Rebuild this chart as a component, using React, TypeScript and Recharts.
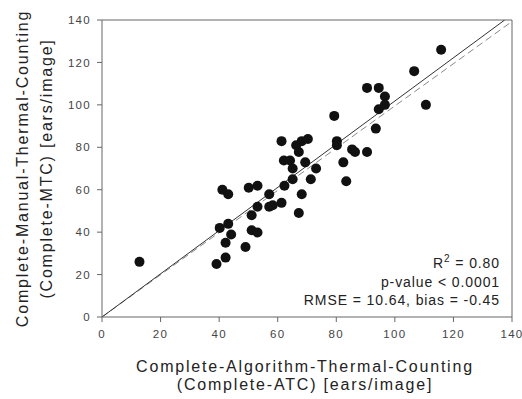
import React from "react";
import {
  ScatterChart,
  Scatter,
  XAxis,
  YAxis,
  ReferenceLine,
  Customized,
} from "recharts";

// Complete-ATC (x) vs Complete-MTC (y), ears/image
const atc = [
  12.8, 39.1, 40.2, 41.1, 43.1, 42.2, 42.2, 43.1, 44.1, 49.0, 50.1, 51.1, 51.1,
  53.1, 53.1, 53.1, 57.1, 57.1, 58.3, 61.3, 61.3, 62.1, 64.2, 62.3, 65.1, 65.1,
  66.3, 67.2, 68.2, 70.3, 68.2, 67.2, 69.4, 71.3, 73.1, 79.3, 80.2, 80.2, 82.4,
  83.4, 85.4, 86.4, 90.5, 90.5, 93.5, 94.5, 94.5, 96.6, 96.6, 106.6, 110.6,
  115.8,
];
const mtc = [
  26.0, 25.0, 42.0, 60.0, 57.9, 35.0, 28.0, 43.9, 38.9, 33.0, 60.9, 48.0, 40.9,
  61.9, 52.0, 39.8, 57.9, 52.0, 52.7, 82.9, 53.8, 73.8, 73.8, 61.9, 70.0, 64.9,
  81.0, 77.8, 82.9, 83.9, 57.9, 49.0, 72.9, 64.9, 70.0, 94.8, 82.9, 81.0, 72.9,
  64.0, 79.0, 77.8, 108.0, 77.8, 88.8, 108.0, 97.9, 103.9, 100.0, 115.9, 100.0,
  126.0,
];

const ticks = [0, 20, 40, 60, 80, 100, 120, 140];
const fitLine = [
  { x: 0, y: 0 },
  { x: 137.5, y: 140 },
];
const oneToOne = [
  { x: 0, y: 0 },
  { x: 140, y: 139.3 },
];
const stats = ["= 0.80", "p-value < 0.0001", "RMSE = 10.64, bias = -0.45"];

const points = atc.map((x, i) => ({ x, y: mtc[i] }));

const font = "'Liberation Sans', Arial, sans-serif";
const axisColor = "#666";

function XTitle(props: any) {
  const { viewBox } = props;
  const cx = viewBox.x + viewBox.width / 2 - 2;
  return (
    <text
      textAnchor="middle"
      fontFamily={font}
      fontSize={16}
      letterSpacing={1.8}
      fill="#222"
    >
      <tspan x={cx} y={372}>Complete-Algorithm-Thermal-Counting</tspan>
      <tspan x={cx} y={390}>(Complete-ATC) [ears/image]</tspan>
    </text>
  );
}

function YTitle(props: any) {
  const { viewBox } = props;
  const cy = viewBox.y + viewBox.height / 2;
  return (
    <g transform={`rotate(-90 0 ${cy})`}>
      <text
        textAnchor="middle"
        fontFamily={font}
        fontSize={16}
        letterSpacing={1.8}
        fill="#222"
      >
        <tspan x={0} y={cy + 28}>Complete-Manual-Thermal-Counting</tspan>
        <tspan x={0} y={cy + 52}>(Complete-MTC) [ears/image]</tspan>
      </text>
    </g>
  );
}

function Stats() {
  const right = 500;
  return (
    <g
      fontFamily={font}
      fontSize={14}
      fill="#222"
      textAnchor="end"
      letterSpacing={0.9}
    >
      <text x={right} y={268}>
        <tspan>R</tspan>
        <tspan fontSize={10} dy={-6}>2</tspan>
        <tspan dy={6}> {stats[0]}</tspan>
      </text>
      <text x={right} y={287}>{stats[1]}</text>
      <text x={right} y={305}>{stats[2]}</text>
    </g>
  );
}

const tickStyle = {
  fontSize: 11.5,
  fill: "#444",
  fontFamily: font,
  letterSpacing: 1.3,
};

export default function App() {
  return (
    <div style={{ position: "absolute", left: 0, top: 0 }}>
      <ScatterChart
        width={522}
        height={399}
        margin={{ top: 20, right: 10, left: 42, bottom: 52 }}
      >
        <XAxis
          type="number"
          dataKey="x"
          domain={[0, 140]}
          ticks={ticks}
          interval={0}
          tickSize={5}
          tickMargin={8}
          height={30}
          stroke={axisColor}
          tick={tickStyle}
          label={<XTitle />}
        />
        <YAxis
          type="number"
          dataKey="y"
          domain={[0, 140]}
          ticks={ticks}
          interval={0}
          tickSize={5}
          tickMargin={6}
          width={60}
          stroke={axisColor}
          tick={tickStyle}
          label={<YTitle />}
        />
        <ReferenceLine x={140} stroke={axisColor} />
        <ReferenceLine y={140} stroke={axisColor} />
        <ReferenceLine
          segment={oneToOne}
          stroke="#888"
          strokeDasharray="7 4"
          ifOverflow="hidden"
        />
        <ReferenceLine segment={fitLine} stroke="#333" ifOverflow="hidden" />
        <Scatter
          data={points}
          fill="#111"
          isAnimationActive={false}
          shape={(p: any) => <circle cx={p.cx} cy={p.cy} r={5} fill="#111" />}
        />
        <Customized component={Stats} />
      </ScatterChart>
    </div>
  );
}
